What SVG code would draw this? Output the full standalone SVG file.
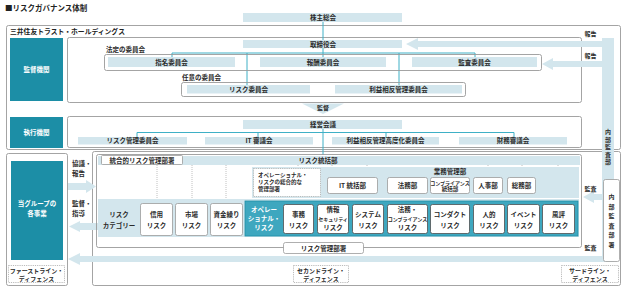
<svg xmlns="http://www.w3.org/2000/svg" width="624" height="289" viewBox="0 0 624 289">
<style>
.t{font-family:'Noto Sans CJK JP','Noto Sans CJK SC',sans-serif;font-size:6.5px;fill:#2a2a2a;text-anchor:middle;font-weight:bold}
.l{text-anchor:start}
.b{font-weight:bold}
.w{fill:#fff;font-weight:bold}
.s{font-size:5px}
.bar{fill:#d3e6ed}
.box{fill:#fff;stroke:#9a9a9a;stroke-width:0.8}
.sub{fill:#fff;stroke:#4f4f4f;stroke-width:0.8}
.frame{fill:none;stroke:#9a9a9a;stroke-width:0.9}
.dash{fill:#fff;stroke:#aaa;stroke-width:0.8;stroke-dasharray:1.2 1}
.teal{fill:#1c8ea6}
.con{stroke:#3eb0c6;stroke-width:1;fill:none}
.dot{stroke:#b0b0b0;stroke-width:0.8;stroke-dasharray:1 1;fill:none}
.arr{fill:#d3e6ed}
</style>

<text class="t l b" x="5" y="11" style="font-size:7.5px;fill:#222">■リスクガバナンス体制</text>

<!-- frames -->
<g id="hd-frame">
<rect class="frame" x="6.5" y="25.5" width="614" height="124" rx="2"/>
<text class="t l b" x="10" y="34" style="font-size:6.8px;fill:#222">三井住友トラスト・ホールディングス</text>
</g>
<rect class="frame" x="67.5" y="37.5" width="514" height="65" rx="2"/>
<rect class="frame" x="67.5" y="116.5" width="514" height="31" rx="2"/>
<rect class="frame" x="6.5" y="153.5" width="61" height="132" rx="2"/>
<rect class="frame" x="92.5" y="151.5" width="528" height="134" rx="2"/>

<!-- internal audit strip and arrows -->
<g id="arrows">
<rect class="arr" x="602" y="38" width="12" height="224"/>
<path class="arr" d="M406 44 L418 38 L418 41 L614 41 L614 47 L418 47 L418 50 Z"/>
<path class="arr" d="M542 64 L553 58 L553 61 L614 61 L614 67 L553 67 L553 70 Z"/>
<path class="arr" d="M583 197 L594 191 L594 194 L603 194 L603 200 L594 200 L594 203 Z"/>
<path class="arr" d="M68 259 L80 253 L80 256 L614 256 L614 262 L80 262 L80 265 Z"/>
<path class="arr" d="M69 226.5 L80 221 L80 223 L98 223 L98 230 L80 230 L80 232 Z"/>
<path class="arr" d="M68 183 L86 183 L86 180 L96 186.5 L86 193 L86 190 L68 190 Z"/>
<polygon class="arr" points="302,103.5 344,103.5 323,114"/>
</g>
<text class="t" x="590.5" y="36" style="font-size:6px">報告</text>
<text class="t" x="590.5" y="58" style="font-size:6px">報告</text>
<text class="t" x="590.5" y="191" style="font-size:6px">監査</text>
<text class="t" x="590.5" y="250" style="font-size:6px">監査</text>
<text class="t" x="323" y="110" style="font-size:6px">監督</text>
<text class="t l" x="72" y="166">協議・</text>
<text class="t l" x="72" y="176">報告</text>
<text class="t l" x="72" y="206">監督・</text>
<text class="t l" x="72" y="216">指導</text>

<!-- connectors -->
<g id="connectors">
<path class="con" d="M323 22 V57 M172 57 V53 H475 V57 M247 53 V85 M399 53 V85"/>
<path class="con" d="M323 129 V155 M137 137 V132.5 H514 V137 M258 132.5 V137 M386 132.5 V137"/>
<path class="dot" d="M157 165 V203 M192 165 V203 M226 165 V203 M298 165 V205 M332 165 V205 M367 165 V205 M488 165 V205 M522 165 V205 M558 165 V205 M417 193 V205 M449 193 V205 M417 196.5 H449"/>
</g>

<!-- top -->
<g id="kabunushi"><rect class="bar" x="243" y="13" width="159" height="9"/><text class="t" x="323" y="20">株主総会</text></g>
<g id="kansa-kikan"><rect class="teal" x="10" y="38" width="53" height="63"/><text class="t w" x="36.5" y="72">監督機関</text></g>
<g id="torishimari"><rect class="bar" x="243" y="40" width="159" height="8"/><text class="t" x="323" y="46.5">取締役会</text></g>

<g id="hotei">
<text class="t l" x="106" y="52">法定の委員会</text>
<rect class="frame" x="104.5" y="54.5" width="437" height="16" rx="2"/>
</g>
<g id="shimei"><rect class="bar" x="108" y="57" width="127" height="10"/><text class="t" x="171.5" y="64.5">指名委員会</text></g>
<g id="hoshu"><rect class="bar" x="260" y="57" width="126" height="10"/><text class="t" x="323" y="64.5">報酬委員会</text></g>
<g id="kansa-iin"><rect class="bar" x="412" y="57" width="125" height="10"/><text class="t" x="474.5" y="64.5">監査委員会</text></g>

<g id="nini">
<text class="t l" x="182" y="79.5">任意の委員会</text>
<rect class="frame" x="181.5" y="82.5" width="284" height="14" rx="2"/>
</g>
<g id="risk-iin"><rect class="bar" x="187" y="85" width="123" height="8.5"/><text class="t" x="248.5" y="91.5">リスク委員会</text></g>
<g id="rieki-iin"><rect class="bar" x="335" y="85" width="127" height="8.5"/><text class="t" x="398.5" y="91.5">利益相反管理委員会</text></g>

<!-- execution -->
<g id="shikko-kikan"><rect class="teal" x="10" y="117" width="53" height="31"/><text class="t w" x="36.5" y="134.5">執行機関</text></g>
<g id="keiei"><rect class="bar" x="243" y="120" width="159" height="9"/><text class="t" x="323" y="127">経営会議</text></g>
<g id="riskkanri-iin"><rect class="bar" x="78" y="137" width="109" height="7.5"/><text class="t" x="132.5" y="143">リスク管理委員会</text></g>
<g id="it-shingi"><rect class="bar" x="205" y="137" width="108" height="7.5"/><text class="t" x="259" y="143">IT 審議会</text></g>
<g id="rieki-kodoka"><rect class="bar" x="332" y="137" width="107" height="7.5"/><text class="t" x="385.5" y="143">利益相反管理高度化委員会</text></g>
<g id="zaimu"><rect class="bar" x="459" y="137" width="108" height="7.5"/><text class="t" x="513" y="143">財務審議会</text></g>

<!-- first line -->
<g id="group-biz"><rect class="teal" x="11" y="161" width="52" height="99"/><text class="t w" x="37" y="206">当グループの</text><text class="t w" x="37" y="215.5">各事業</text></g>
<g id="first-line"><rect class="dash" x="8.5" y="265.5" width="56" height="17"/><text class="t" x="36.5" y="273" style="font-size:6px">ファーストライン・</text><text class="t" x="36.5" y="281" style="font-size:6px">ディフェンス</text></g>

<!-- second line -->
<g id="second-frame"><rect class="frame" x="96.5" y="154.5" width="485" height="93" rx="2"/></g>
<g id="risk-tokatsu"><rect class="bar" x="98" y="156" width="482" height="9"/><text class="t b" x="318" y="163">リスク統括部</text></g>
<g id="togo"><rect class="box" x="101.5" y="155.5" width="81" height="9" rx="1"/><text class="t" x="142" y="162.5">統合的リスク管理部署</text></g>

<g id="opr-region"><rect class="bar" x="252" y="167" width="327" height="31"/></g>
<g id="gyomu"><text class="t b" x="450" y="174">業務管理部</text></g>

<g id="category-band"><rect class="bar" x="98" y="199" width="481" height="38"/><text class="t" x="119" y="217">リスク</text><text class="t" x="119" y="228">カテゴリー</text></g>
<rect x="245" y="201" width="333" height="35" fill="#3ea7bf" stroke="#1f8fa7" stroke-width="0.8"/>

<g id="opr-dept"><rect class="dash" x="253.5" y="168.5" width="67" height="28"/><text class="t l" x="258" y="176.5" style="font-size:5.5px">オペレーショナル・</text><text class="t l" x="258" y="183.5" style="font-size:5.5px">リスクの総合的な</text><text class="t l" x="258" y="190.5" style="font-size:5.5px">管理部署</text></g>
<g id="it-tokatsu"><rect class="box" x="327.5" y="177.5" width="50" height="16" rx="2"/><text class="t" x="352.5" y="188">IT 統括部</text></g>
<g id="homu"><rect class="box" x="387.5" y="177.5" width="40" height="16" rx="2"/><text class="t" x="407.5" y="188">法務部</text></g>
<g id="compliance"><rect class="box" x="430.5" y="177.5" width="39" height="16" rx="2"/><text class="t s" x="450" y="184.5">コンプライアンス</text><text class="t" x="450" y="191" style="font-size:5.5px">統括部</text></g>
<g id="jinji"><rect class="box" x="473.5" y="177.5" width="29" height="16" rx="2"/><text class="t" x="488" y="188">人事部</text></g>
<g id="somu"><rect class="box" x="507.5" y="177.5" width="28" height="16" rx="2"/><text class="t" x="521.5" y="188">総務部</text></g>

<g id="shinyo"><rect class="box" x="140.5" y="203.5" width="32" height="32" rx="2"/><text class="t" x="156.5" y="217">信用</text><text class="t" x="156.5" y="228">リスク</text></g>
<g id="shijo"><rect class="box" x="175.5" y="203.5" width="32" height="32" rx="2"/><text class="t" x="191.5" y="217">市場</text><text class="t" x="191.5" y="228">リスク</text></g>
<g id="shikin"><rect class="box" x="210.5" y="203.5" width="32" height="32" rx="2"/><text class="t" x="226.5" y="217">資金繰り</text><text class="t" x="226.5" y="228">リスク</text></g>
<g id="operational"><text class="t w" x="264" y="212">オペレー</text><text class="t w" x="264" y="221">ショナル・</text><text class="t w" x="264" y="230">リスク</text></g>
<g id="jimu"><rect class="sub" x="283.5" y="204.5" width="30" height="29" rx="2"/><text class="t" x="298.5" y="217">事務</text><text class="t" x="298.5" y="228">リスク</text></g>
<g id="joho"><rect class="sub" x="317.5" y="204.5" width="31" height="29" rx="2"/><text class="t" x="333" y="212">情報</text><text class="t s" x="333" y="220.5">セキュリティ</text><text class="t" x="333" y="229.5">リスク</text></g>
<g id="system"><rect class="sub" x="352.5" y="204.5" width="31" height="29" rx="2"/><text class="t" x="368" y="217">システム</text><text class="t" x="368" y="228">リスク</text></g>
<g id="homu-risk"><rect class="sub" x="387.5" y="204.5" width="40" height="29" rx="2"/><text class="t" x="407.5" y="212">法務・</text><text class="t s" x="407.5" y="220.5">コンプライアンス</text><text class="t" x="407.5" y="229.5">リスク</text></g>
<g id="conduct"><rect class="sub" x="430.5" y="204.5" width="39" height="29" rx="2"/><text class="t" x="450" y="217">コンダクト</text><text class="t" x="450" y="228">リスク</text></g>
<g id="jinteki"><rect class="sub" x="473.5" y="204.5" width="31" height="29" rx="2"/><text class="t" x="489" y="217">人的</text><text class="t" x="489" y="228">リスク</text></g>
<g id="event"><rect class="sub" x="507.5" y="204.5" width="32" height="29" rx="2"/><text class="t" x="523.5" y="217">イベント</text><text class="t" x="523.5" y="228">リスク</text></g>
<g id="fuhyo"><rect class="sub" x="542.5" y="204.5" width="32" height="29" rx="2"/><text class="t" x="558.5" y="217">風評</text><text class="t" x="558.5" y="228">リスク</text></g>

<g id="riskkanri-busho"><rect class="box" x="283.5" y="242.5" width="80" height="11" rx="2"/><text class="t" x="323.5" y="250.5">リスク管理部署</text></g>
<g id="second-line"><rect class="dash" x="293.5" y="265.5" width="55" height="17"/><text class="t" x="321" y="273" style="font-size:6px">セカンドライン・</text><text class="t" x="321" y="281" style="font-size:6px">ディフェンス</text></g>

<!-- third line -->
<g id="naibu-kansabu"><text class="t" x="608" y="134" style="font-size:6px">内</text><text class="t" x="608" y="141.5" style="font-size:6px">部</text><text class="t" x="608" y="149" style="font-size:6px">監</text><text class="t" x="608" y="156.5" style="font-size:6px">査</text><text class="t" x="608" y="164" style="font-size:6px">部</text></g>
<g id="naibu-busho"><rect class="box" x="603.5" y="179.5" width="16" height="82" rx="2"/><text class="t" x="611.5" y="199" style="font-size:6px">内</text><text class="t" x="611.5" y="208.5" style="font-size:6px">部</text><text class="t" x="611.5" y="218" style="font-size:6px">監</text><text class="t" x="611.5" y="227.5" style="font-size:6px">査</text><text class="t" x="611.5" y="237" style="font-size:6px">部</text><text class="t" x="611.5" y="246.5" style="font-size:6px">署</text></g>
<g id="third-line"><rect class="dash" x="561.5" y="265.5" width="57" height="17"/><text class="t" x="590" y="273" style="font-size:6px">サードライン・</text><text class="t" x="590" y="281" style="font-size:6px">ディフェンス</text></g>
</svg>
